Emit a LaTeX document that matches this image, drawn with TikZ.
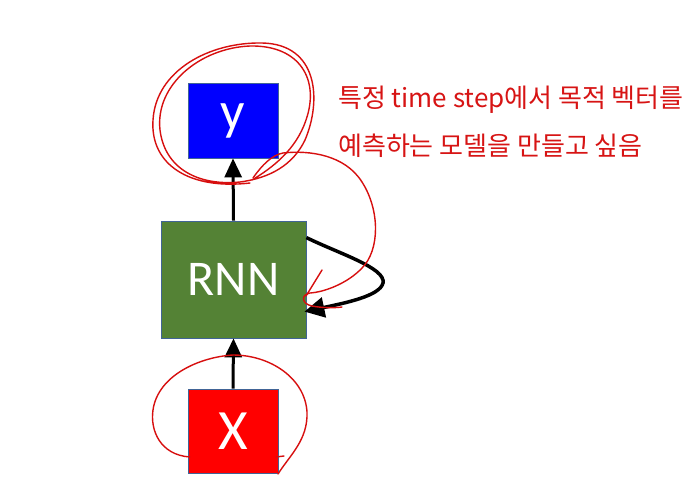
\documentclass[tikz,border=0pt]{standalone}
\usepackage{fontspec}
\setmainfont{Carlito}
\newfontfamily\kr{Noto Sans CJK KR}
\usetikzlibrary{arrows.meta,calc}
\definecolor{boxgreen}{RGB}{84,130,53}
\definecolor{edgeblue}{RGB}{65,100,150}
\definecolor{pen}{RGB}{215,15,15}
\definecolor{txtred}{RGB}{215,20,20}
\tikzset{
  blk/.style={draw=edgeblue,line width=0.8pt,inner sep=0pt,text=white},
  flow/.style={line width=3pt,-{Triangle[width=17pt,length=19pt]}},
  loopline/.style={line width=3.5pt,-{Triangle[width=20pt,length=20pt]}},
  ink/.style={draw=pen,line width=1.4pt,line cap=round,line join=round},
  note/.style={anchor=west,text=txtred,inner sep=0pt,font=\fontsize{26}{26}\selectfont\kr},
}
\begin{document}
\begin{tikzpicture}[x=1pt,y=-1pt]
\useasboundingbox[fill=white] (0,0) rectangle (687,501);
% boxes
\node[blk,fill=blue,minimum width=90pt,minimum height=75pt,font=\fontsize{54}{54}\selectfont] (y) at (233,120.5) {y};
\node[blk,fill=boxgreen,minimum width=145pt,minimum height=117pt,font=\fontsize{50}{50}\selectfont] (rnn) at (233.5,279.5) {RNN};
\node[blk,fill=red,minimum width=90pt,minimum height=84pt,font=\fontsize{57}{57}\selectfont] (x) at (233,431) {X};
% arrows
\draw[flow] (rnn.north) -- (y.south);
\draw[flow] (x.north) -- (rnn.south);
\coordinate (ls) at ($(rnn.north east)+(0,17)$);
\coordinate (le) at ($(rnn.north east)+(-2,91)$);
\draw[loopline] (ls) .. controls (340,254) and (386,268) .. (383,283)
   .. controls (380,296) and (345,303) .. (le);
% text
\node[note] (t1) at (338,100) {특정 time step에서 목적 벡터를};
\node[note] (t2) at (338,146) {예측하는 모델을 만들고 싶음};
% hand-drawn annotations
\draw[ink] (250,183) .. controls (190,190) and (150,165) .. (153,120)
  .. controls (156,70) and (210,42) .. (262,43)
  .. controls (318,44) and (322,100) .. (305,140)
  .. controls (293,165) and (270,178) .. (240,182)
  .. controls (200,186) and (165,170) .. (160,130)
  .. controls (155,85) and (200,48) .. (250,46)
  .. controls (300,45) and (320,80) .. (306,120)
  .. controls (296,150) and (272,168) .. (252,180);
\draw[ink] (253,178) .. controls (262,165) and (272,155) .. (283,153)
  .. controls (310,150) and (345,155) .. (362,182)
  .. controls (380,210) and (380,250) .. (362,268)
  .. controls (348,283) and (325,292) .. (310,293)
  .. controls (300,295) and (302,304) .. (312,306)
  .. controls (322,308) and (335,308) .. (342,307);
\draw[ink] (322,270) -- (306,296);
\draw[ink] (190,457) .. controls (160,455) and (150,430) .. (153,410)
  .. controls (158,375) and (200,357) .. (233,355)
  .. controls (270,355) and (305,378) .. (307,412)
  .. controls (308,440) and (290,455) .. (278,474);
\draw[ink] (276,457) -- (284,456);
\end{tikzpicture}
\end{document}
